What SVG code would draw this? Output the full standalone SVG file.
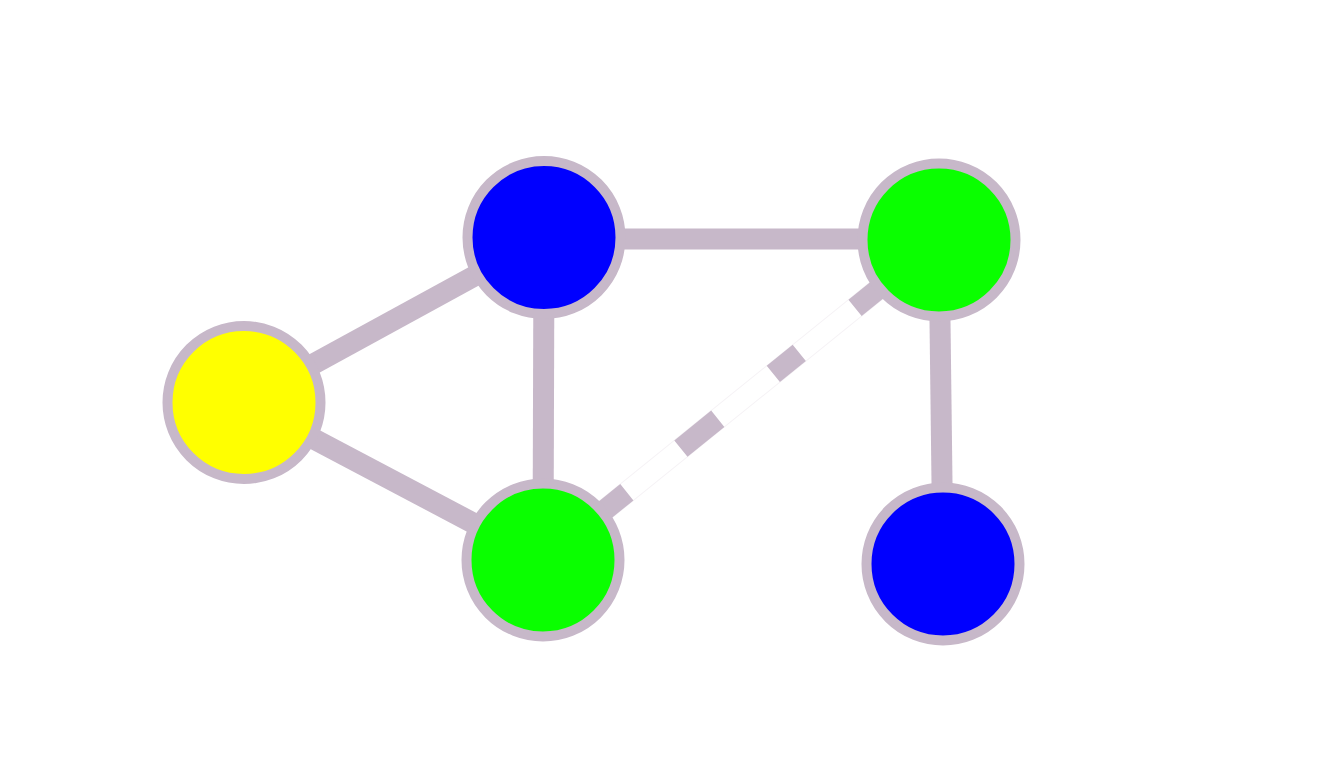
<svg xmlns="http://www.w3.org/2000/svg" width="1318" height="780" viewBox="0 0 1318 780">
<style>
.edge{stroke:#c7b8c9;stroke-width:21;fill:none}
.node{stroke:#c7b8c9;stroke-width:10}
.yellow{fill:#ffff00}
.blue{fill:#0000ff}
.green{fill:#0aff00}
</style>
<rect width="1318" height="780" fill="#ffffff"/>
<g id="edges">
<line class="edge" x1="244" y1="402" x2="544" y2="238"/>
<line class="edge" x1="244" y1="402" x2="543" y2="560"/>
<line class="edge" x1="544" y1="238" x2="543" y2="560"/>
<line class="edge" x1="544" y1="239" x2="939" y2="239"/>
<line class="edge" x1="939" y1="240" x2="943" y2="564"/>
<line x1="543" y1="560" x2="939" y2="240" stroke="#f6f3f6" stroke-width="22"/>
<line x1="543" y1="560" x2="939" y2="240" stroke="#ffffff" stroke-width="20"/>
<line class="edge" x1="543" y1="560" x2="939" y2="240" stroke-dasharray="107.8 69.5 47.4 71.4 33.4 71.7 200"/>
</g>
<g id="node-yellow"><circle class="node yellow" cx="244" cy="402.5" r="76.5"/></g>
<g id="node-blue-top"><circle class="node blue" cx="544" cy="237.5" r="76.5"/></g>
<g id="node-green-top"><circle class="node green" cx="939" cy="240" r="76.5"/></g>
<g id="node-green-bottom"><circle class="node green" cx="543" cy="560" r="76.5"/></g>
<g id="node-blue-bottom"><circle class="node blue" cx="943" cy="564" r="76.5"/></g>
</svg>
